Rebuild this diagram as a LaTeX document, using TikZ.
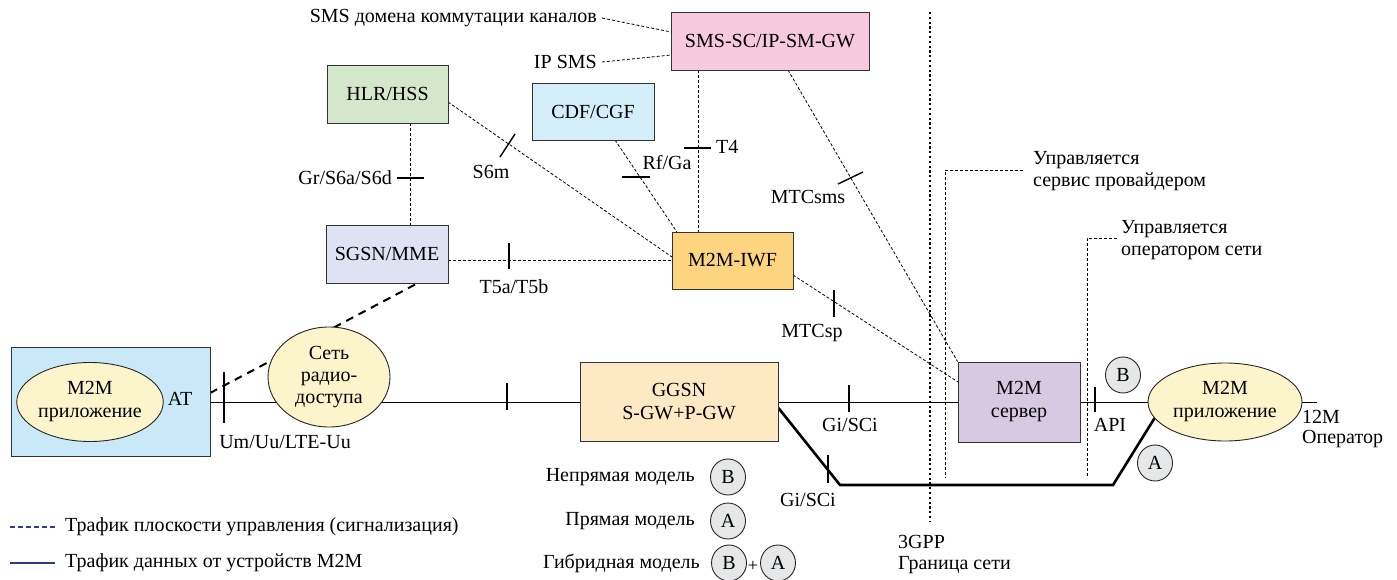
\documentclass[tikz,border=0pt]{standalone}
\usepackage{fontspec}
\setmainfont{Liberation Serif}
\usetikzlibrary{shapes.geometric,backgrounds}
\definecolor{smspink}{HTML}{F6C9DF}
\definecolor{hlrgreen}{HTML}{D5E7CB}
\definecolor{cdfblue}{HTML}{D3EEF9}
\definecolor{sgsnlav}{HTML}{DFE2F3}
\definecolor{iwforange}{HTML}{FDD581}
\definecolor{atblue}{HTML}{C9E9F8}
\definecolor{ellyellow}{HTML}{FCF5CC}
\definecolor{ggsnpeach}{HTML}{FDE9C3}
\definecolor{servlav}{HTML}{D7C9E1}
\definecolor{circgray}{HTML}{E6E7E8}
\definecolor{legblue}{HTML}{2B3A8C}
\begin{document}
\begin{tikzpicture}[x=1pt,y=-1pt,
  font=\fontsize{20}{23}\selectfont,
  box/.style={draw=black!80, line width=0.9pt, inner sep=0pt, align=center},
  ell/.style={ellipse, draw=black!85, line width=0.9pt, inner sep=0pt, align=center, fill=ellyellow},
  sig/.style={dash pattern=on 3pt off 2pt, line width=0.8pt},
  datal/.style={line width=0.9pt},
  thickdata/.style={line width=2.6pt, line join=miter},
  tickl/.style={line width=1.4pt},
  circ/.style={ellipse, draw=black!85, line width=0.9pt, fill=circgray, minimum width=35pt, minimum height=36pt, inner sep=0pt},
  lbl/.style={inner sep=0pt}]
\useasboundingbox (0,0) rectangle (1397,580);

% ---------- nodes ----------
\node[box, fill=smspink, minimum width=198pt, minimum height=58pt] (sms) at (770,41) {SMS-SC/IP-SM-GW};
\node[box, fill=hlrgreen, minimum width=121pt, minimum height=58pt] (hlr) at (387.5,94) {HLR/HSS};
\node[box, fill=cdfblue, minimum width=122pt, minimum height=57pt] (cdf) at (593,111.5) {CDF/CGF};
\node[box, fill=sgsnlav, minimum width=122pt, minimum height=58pt] (sgsn) at (387,254) {SGSN/MME};
\node[box, fill=iwforange, minimum width=121pt, minimum height=57pt] (iwf) at (732.5,260.5) {M2M-IWF};
\node[box, fill=atblue, minimum width=199pt, minimum height=109pt] (at) at (110.5,402) {};
\node[ell, minimum width=136pt, minimum height=79pt] (ueapp) at (90,402) {M2M\\приложение};
\node[lbl] (attxt) at (180,399) {AT};
\node[box, fill=ggsnpeach, minimum width=198pt, minimum height=79pt] (ggsn) at (679,402) {GGSN\\S-GW+P-GW};
\node[box, fill=servlav, minimum width=122pt, minimum height=80pt] (server) at (1019,402) {M2M\\сервер};
\node[ell, minimum width=154pt, minimum height=78pt] (app2) at (1225,402) {M2M\\приложение};
\node[ell, minimum width=122pt, minimum height=100pt, font=\fontsize{20}{22}\selectfont] (ran) at (329,377) {Сеть\\радио-\\доступа};

\node[circ] (cB) at (1123,375) {B};
\node[circ] (cA) at (1155,463) {A};

% ---------- connectors (behind nodes) ----------
\coordinate (ue) at (1317,402);
\coordinate (c1) at (840,485);
\coordinate (c2) at (1113,485);
\coordinate (atsig) at (210,393);
\coordinate (sgsnb) at (418,283);
\coordinate (smsl1) at (671,32);
\coordinate (smsl2) at (671,55);
\begin{scope}[on background layer]
  \draw[datal] (at.east) -- (ggsn.west);
  \draw[datal] (ggsn.east) -- (server.west);
  \draw[datal] (server.east) -- (app2.west);
  \draw[datal] (app2.east) -- (ue);
  \draw[thickdata] ([yshift=-6pt]ggsn.east) -- (c1) -- (c2) -- (app2.193);
  \draw[line width=2pt, dash pattern=on 8pt off 6pt] (atsig) -- (sgsnb);
  \draw[sig] (hlr.south -| 410,0) -- (sgsn.north -| 410,0);
  \draw[sig] (sgsn.east |- iwf.west) -- (iwf.west);
  \draw[sig] (448,102) -- (672,257);
  \draw[sig] (615,140) -- (677,232);
  \draw[sig] (sms.south -| 698,0) -- (iwf.north -| 698,0);
  \draw[sig] (788,70) -- (server.north west);
  \draw[sig] (793,275) -- (958,382);
\end{scope}

% ---------- ticks ----------
\draw[tickl] (224,372) -- (224,423);
\draw[tickl] (507,383) -- (507,410);
\draw[tickl] (849,385) -- (849,412);
\draw[tickl] (828,455) -- (828,483);
\draw[tickl] (1095,387) -- (1095,412);
\draw[tickl] (397,178) -- (424,178);
\draw[tickl] (509,243) -- (509,269);
\draw[tickl] (500,157) -- (515,134);
\draw[tickl] (622,177) -- (650,177);
\draw[tickl] (684,148) -- (711,148);
\draw[tickl] (838,184) -- (863,172);
\draw[tickl] (834,290) -- (834,317);

% ---------- labels ----------
\node[lbl] at (285,442) {Um/Uu/LTE-Uu};
\node[lbl] at (514,287) {T5a/T5b};
\node[lbl, anchor=east] at (392,178) {Gr/S6a/S6d};
\node[lbl] at (491,172) {S6m};
\node[lbl] at (667,163) {Rf/Ga};
\node[lbl, anchor=west] at (716,147) {T4};
\node[lbl] at (808,197) {MTCsms};
\node[lbl] at (812,333) {MTCsp};
\node[lbl] at (850,425) {Gi/SCi};
\node[lbl] at (808,500) {Gi/SCi};
\node[lbl] at (1110,425) {API};
\node[lbl, anchor=west] at (1302,417) {12M};
\node[lbl, anchor=west] at (1302,439) {Оператор};

\node[lbl, anchor=east] (smscs) at (597,18) {SMS домена коммутации каналов};
\node[lbl, anchor=east] (ipsms) at (597,62) {IP SMS};
\draw[sig] ([xshift=5pt]smscs.east) -- (smsl1);
\draw[sig] ([xshift=5pt]ipsms.east) -- (smsl2);

% ---------- boundaries ----------
\draw[line width=2.2pt, dash pattern=on 2.2pt off 2.6pt] (930,12) -- (930,522);
\node[lbl, anchor=west, align=left, font=\fontsize{20}{21}\selectfont] at (898,555) {3GPP\\Граница сети};

\node[lbl, anchor=west, align=left, font=\fontsize{20}{22}\selectfont] (prov) at (1033,171) {Управляется\\сервис провайдером};
\draw[sig] (1023,170) -- (945,170) -- (945,478);
\node[lbl, anchor=west, align=left, font=\fontsize{20}{22}\selectfont] (oper) at (1121,240) {Управляется\\оператором сети};
\draw[sig] (1117,238) -- (1087,238) -- (1087,478);

% ---------- legend ----------
\node[lbl, anchor=east] at (695,477) {Непрямая модель};
\node[circ] (lB1) at (728,477) {B};
\node[lbl, anchor=east] at (695,521) {Прямая модель};
\node[circ] (lA1) at (728,521) {A};
\node[lbl, anchor=east] at (700,563) {Гибридная модель};
\node[circ] (lB2) at (729,563) {B};
\node[lbl, font=\fontsize{18}{20}\selectfont] at (753,566) {+};
\node[circ] (lA2) at (778,563) {A};

\draw[legblue, line width=2pt, dash pattern=on 5pt off 3pt] (10,527) -- (55,527);
\node[lbl, anchor=west] at (65,527) {Трафик плоскости управления (сигнализация)};
\draw[legblue, line width=2pt] (10,563) -- (55,563);
\node[lbl, anchor=west] at (65,563) {Трафик данных от устройств M2M};
\end{tikzpicture}
\end{document}
